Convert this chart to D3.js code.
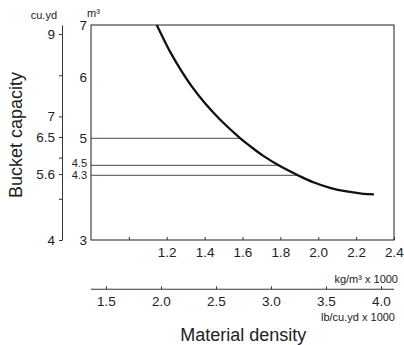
<!DOCTYPE html>
<html>
<head>
<meta charset="utf-8">
<script src="https://cdn.jsdelivr.net/npm/d3@7"></script>
<style>
html,body{margin:0;padding:0;background:#fff;}
svg{display:block;font-family:"Liberation Sans",Arial,Helvetica,sans-serif;}
</style>
</head>
<body>
<svg id="c" width="404" height="345"></svg>
<script>
// Curve: material density (kg/m3 x 1000) vs bucket capacity (cu.yd)
const density  = [1.147,1.179,1.221,1.274,1.332,1.402,1.481,1.587,1.640,1.710,1.793,1.895,1.974,2.062,2.150,2.238,2.294];
const capacityCu = [9.22,8.921,8.543,8.130,7.729,7.319,6.926,6.476,6.280,6.042,5.809,5.568,5.401,5.267,5.178,5.122,5.107];
// Reference lines (capacity m3) and density where they meet the curve
const refCapacity = [5, 4.5, 4.3];
const refDensity  = [1.587, 1.793, 1.895];
// Tick values / labels
const m3Ticks = [3, 4.3, 4.5, 5, 6, 7];
const m3Pos   = [240, 175.3, 165.3, 138.3, 76.7, 25];
const cuTicks = [4, 5, 5.6, 6, 6.5, 7, 8, 9];
const cuLabels = ["4", "", "5.6", "", "6.5", "7", "", "9"];
const kgTicks = [1.0, 1.2, 1.4, 1.6, 1.8, 2.0, 2.2, 2.4];
const kgLabels = ["", "1.2", "1.4", "1.6", "1.8", "2.0", "2.2", "2.4"];
const lbTicks = [1.5, 2.0, 2.5, 3.0, 3.5, 4.0];
const lbLabels = ["1.5", "2.0", "2.5", "3.0", "3.5", "4.0"];

const svg = d3.select("#c");
const L = 91, R = 394, T = 25, B = 240;

const x = d3.scaleLinear([0.8, 2.4], [L, R]);
const y = d3.scaleLinear(m3Ticks, m3Pos);
const yCu = d3.scaleLinear([4, 9.22], [B, T]);
const xLb = d3.scaleLinear([1.5, 4.0], [106, 381]);

const fs = 13.5;

// reference lines
svg.append("g").selectAll("line").data(refCapacity).join("line")
  .attr("x1", L).attr("x2", (d, i) => x(refDensity[i]))
  .attr("y1", d => y(d)).attr("y2", d => y(d))
  .attr("stroke", "#6e6e6e").attr("stroke-width", 1.3);

// box
svg.append("rect").attr("x", L).attr("y", T).attr("width", R - L).attr("height", B - T)
  .attr("fill", "none").attr("stroke", "#333").attr("stroke-width", 1.1);

// curve
const pts = density.map((d, i) => [d, capacityCu[i]]);
svg.append("path").datum(pts)
  .attr("d", d3.line().x(d => x(d[0])).y(d => yCu(d[1])).curve(d3.curveCatmullRom.alpha(0.5)))
  .attr("fill", "none").attr("stroke", "#111").attr("stroke-width", 2.3);

// m3 axis (left of box)
const gM = svg.append("g").attr("transform", `translate(${L},0)`)
  .call(d3.axisLeft(y).tickValues(m3Ticks).tickSize(0).tickPadding(4).tickFormat(d3.format("")));
gM.select(".domain").remove();
gM.selectAll("text").attr("font-size", d => (d === 4.3 || d === 4.5) ? 11 : fs)
  .attr("dy", d => d === 4.5 ? "0.7px" : d === 4.3 ? "3px" : "0.32em")
  .attr("font-family", null).attr("fill", "#222");

// cu.yd axis
const gC = svg.append("g").attr("transform", "translate(62,0)")
  .call(d3.axisLeft(yCu).tickValues(cuTicks).tickSizeInner(3).tickSizeOuter(0).tickPadding(4)
    .tickFormat((d, i) => cuLabels[i]));
gC.select(".domain").attr("stroke", "#333");
gC.selectAll("line").attr("stroke", "#333");
gC.selectAll("text").attr("font-size", fs).attr("font-family", null).attr("fill", "#222");

// kg/m3 axis on box bottom (ticks inside)
const gK = svg.append("g").attr("transform", `translate(0,${B})`)
  .call(d3.axisBottom(x).tickValues(kgTicks).tickSizeInner(-3).tickSizeOuter(0).tickPadding(0)
    .tickFormat((d, i) => kgLabels[i]));
gK.select(".domain").remove();
gK.selectAll("line").attr("stroke", "#333");
gK.selectAll("text").attr("y", 7.5).attr("font-size", fs).attr("font-family", null).attr("fill", "#222");

// lb/cu.yd axis
const yLb = 289.3;
svg.append("line").attr("x1", L).attr("x2", R).attr("y1", yLb).attr("y2", yLb)
  .attr("stroke", "#333").attr("stroke-width", 1.1);
const gL = svg.append("g").attr("transform", `translate(0,${yLb})`)
  .call(d3.axisBottom(xLb).tickValues(lbTicks).tickSizeInner(-3).tickSizeOuter(0).tickPadding(0)
    .tickFormat((d, i) => lbLabels[i]));
gL.select(".domain").remove();
gL.selectAll("line").attr("stroke", "#333");
gL.selectAll("text").attr("y", 7).attr("font-size", fs).attr("font-family", null).attr("fill", "#222");

// unit labels
svg.append("text").attr("x", 57).attr("y", 18.7).attr("text-anchor", "end")
  .attr("font-size", 11).attr("fill", "#222").text("cu.yd");
svg.append("text").attr("x", 87).attr("y", 17.3)
  .attr("font-size", 11).attr("fill", "#222").text("m³");
svg.append("text").attr("x", 398).attr("y", 283.3).attr("text-anchor", "end")
  .attr("font-size", 11).attr("fill", "#222").text("kg/m³ x 1000");
svg.append("text").attr("x", 395).attr("y", 320.7).attr("text-anchor", "end")
  .attr("font-size", 11).attr("fill", "#222").text("lb/cu.yd x 1000");

// titles
svg.append("text").attr("x", 243.3).attr("y", 340.7).attr("text-anchor", "middle")
  .attr("font-size", 18).attr("fill", "#222").text("Material density");
svg.append("text").attr("transform", "translate(21.7,135) rotate(-90)").attr("text-anchor", "middle")
  .attr("font-size", 18).attr("fill", "#222").text("Bucket capacity");
</script>
</body>
</html>
